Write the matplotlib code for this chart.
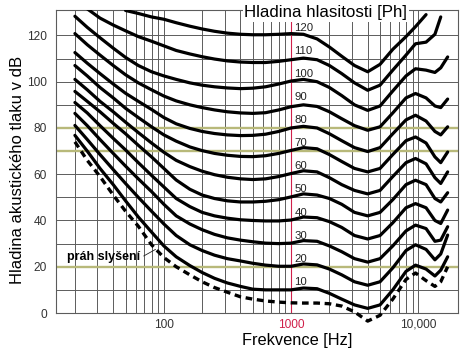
import numpy as np
import matplotlib.pyplot as plt
from matplotlib.ticker import NullLocator

plt.rcParams['font.family'] = ['Liberation Sans', 'DejaVu Sans']

# frekvence (Hz) a hladiny akustického tlaku (dB)
freq = [20, 25, 31.5, 40, 50, 63, 80, 100, 125, 160, 200, 250, 315, 400, 500, 630, 800,
        1000, 1250, 1600, 2000, 2500, 3150, 4000, 5000, 6300, 8000, 9500, 11500, 13500, 15000, 17000]
nan = np.nan

prah = [74, 66, 59, 51, 44, 37.5, 29.5, 24, 20, 16.5, 13.5, 11, 9, 7, 6, 5.2, 4.7,
        4.4, 4.3, 4.3, 4, 3, 0.5, -3.5, -1, 6, 14.5, 17.3, 14, 11.5, 13.5, 20]
spl_10 = [76.8, 70, 62.5, 55.5, 48.5, 41.5, 35, 29, 24.3, 20.5, 17.5, 15, 13, 11.5, 10.3, 10, 10,
          10, 10.8, 10.5, 8.5, 6, 3.5, 2, 3.5, 10, 18, 20.7, 19, 16, 18.5, 24.3]
spl_20 = [81.1, 75, 68.5, 62, 56, 50, 44, 38.5, 33.5, 29.5, 27, 25, 23.5, 22.5, 21.5, 20.7, 20.2,
          20.2, 21.2, 20.8, 19, 16.5, 13.5, 12, 13.5, 19.5, 27, 29.5, 27.5, 23, 25.5, 33.7]
spl_30 = [86.3, 81, 75, 69, 63.5, 58, 52.5, 47, 42, 38.5, 36, 34, 32.5, 31.5, 30.8, 30.2, 30,
          30.2, 31.3, 31, 29, 26.5, 23.5, 22, 23.5, 29, 35.5, 38, 36.5, 31, 31.5, 37.3]
spl_40 = [91, 86.5, 81, 75.5, 70.5, 65, 59.5, 54.5, 49.5, 46, 43.5, 42, 41, 40.3, 40, 39.8, 39.8,
          40.2, 41.5, 41.2, 39.5, 37, 33.5, 32, 33.5, 39, 45.5, 47.3, 45.5, 40, 38.7, 44.5]
spl_50 = [95.8, 91.5, 87, 82, 77.5, 72.5, 67.5, 62.5, 57.5, 53.5, 51, 49.5, 48.5, 48, 48, 48.3, 49,
          50.2, 51.5, 51, 49.5, 47, 43.5, 42, 43.5, 49, 55.5, 57.4, 55.5, 49.5, 48, 52]
spl_60 = [101, 96.5, 91.5, 87, 82.5, 78, 73.5, 69.5, 66, 63.3, 61.3, 59.8, 58.7, 58, 57.7, 58, 59,
          60.3, 61.5, 61, 58.5, 55.5, 53, 51.5, 53, 59, 65, 66.8, 64.5, 58.5, 56, 61]
spl_70 = [107, 102.5, 97.5, 93, 88.5, 84.5, 80.5, 77, 74.3, 71.8, 70.2, 69, 68.2, 67.7, 67.6, 68, 69,
          70.3, 71.5, 71, 68.5, 65.5, 62.5, 61, 62.5, 68.5, 74.5, 76.1, 73.5, 67.5, 65, 69.6]
spl_80 = [112.6, 108, 103.5, 99, 95, 91.5, 88, 84.5, 81.8, 79.8, 78.5, 77.6, 77, 76.7, 76.8, 77.3, 78.5,
          80, 80.7, 80, 77.5, 74.5, 71.5, 69.8, 71.5, 77.5, 83.5, 85.5, 83, 78.5, 77, 80.5]
spl_90 = [120.8, 116, 111.5, 107, 103, 99.5, 96.5, 93.8, 91.7, 90, 88.8, 87.8, 87, 86.5, 86.3, 86.6, 87.8,
          89.2, 90, 89.3, 87, 84, 81, 79, 80.5, 86.5, 93, 94.9, 93, 89.5, 88.8, 92.5]
spl_100 = [128.3, 123.5, 119, 114.5, 110.5, 107, 104.3, 102.5, 101, 99.5, 98.5, 97.8, 97.3, 97, 97.2, 97.8, 99,
           100.3, 101, 100, 97.5, 94, 90, 87.6, 89.5, 96, 102.5, 105.6, 105, 104, 106, 110.7]
spl_110 = [nan, 131.5, 127.5, 124.5, 122, 119.5, 117.5, 115.5, 113.5, 112, 110.8, 109.8, 109, 108.5, 108.3, 108.3, 108.8,
           109.5, 110.2, 109.5, 107, 103.5, 99.5, 96.3, 98.5, 105, 111.5, 116.4, 117.1, 120.5, 128, nan]
spl_120 = [nan, nan, nan, nan, 130.8, 129.5, 128, 127, 125.5, 124, 122.8, 121.8, 121, 120.5, 120.3, 120.3, 120.5,
           120.8, 120.5, 118.5, 115, 111, 107, 104.3, 107.5, 114, 119.5, 123.8, 129, nan, nan, nan]

phon = [10, 20, 30, 40, 50, 60, 70, 80, 90, 100, 110, 120]
krivky = [spl_10, spl_20, spl_30, spl_40, spl_50, spl_60, spl_70, spl_80, spl_90, spl_100, spl_110, spl_120]

grid_x = [20, 30, 40, 50, 60, 70, 80, 90, 100, 200, 300, 400, 500, 600, 700, 800, 900,
          2000, 3000, 4000, 5000, 6000, 7000, 8000, 9000, 10000]
grid_y = [10, 20, 30, 40, 50, 60, 70, 80, 90, 100, 110, 120]
zvyraznene_y = [20, 70, 80]

fig = plt.figure(figsize=(4.72, 3.52), dpi=100)
ax = fig.add_axes([56 / 472, 1 - 313 / 352, 402 / 472, 303 / 352])
ax.set_xscale('log')
ax.set_xlim(14.2, 20500)
ax.set_ylim(0, 131)

grid_col = '#5c5c5c'
for x in grid_x:
    ax.axvline(x, color=grid_col, lw=0.7, zorder=1)
for y in grid_y:
    ax.axhline(y, color=grid_col, lw=0.7, zorder=1)
for y in zvyraznene_y:
    ax.axhline(y, color='#b8b97a', lw=1.7, zorder=1.5)
ax.axvline(1000, color='#d0204a', lw=0.8, zorder=1.6)

for p, spl in zip(phon, krivky):
    ax.plot(freq, spl, color='black', lw=2.3, solid_capstyle='round', zorder=3)
    ax.text(1060, p + 3.4, str(p), fontsize=8.2, color='#222222', ha='left', va='center', zorder=4)

ax.plot(freq, prah, color='black', lw=2.4, ls=(0, (2.0, 1.4)), zorder=3, clip_on=False)

ax.annotate('práh slyšení', xy=(86, 27.5), xytext=(17.2, 24.2), fontsize=9, fontweight='bold',
            ha='left', va='center', zorder=5,
            arrowprops=dict(arrowstyle='-', lw=0.6, color='#222222', shrinkA=1, shrinkB=0,
                            relpos=(1, 0.4)))

ax.set_xticks([100, 1000, 10000])
ax.set_xticklabels(['100', '1000', '10,000'])
ax.xaxis.set_minor_locator(NullLocator())
ax.set_yticks([0, 20, 40, 60, 80, 100, 120])
ax.tick_params(axis='both', length=0, labelsize=8.6, labelcolor='#333333')
ax.tick_params(axis='x', pad=4)
ax.tick_params(axis='y', pad=6.5)
ax.get_xticklabels()[1].set_color('#d0204a')

for s in ax.spines.values():
    s.set_color(grid_col)
    s.set_linewidth(0.8)

fig.text(297 / 472, 1 - 341 / 352, 'Frekvence [Hz]', fontsize=11.8, ha='center', va='center')
fig.text(18 / 472, 1 - 170 / 352, 'Hladina akustického tlaku v dB', fontsize=12,
         rotation=90, ha='center', va='center')
fig.text(326 / 472, 1 - 13 / 352, 'Hladina hlasitosti [Ph]', fontsize=12.2, ha='center', va='center',
         bbox=dict(facecolor='white', edgecolor='none', pad=1.0), zorder=10)

fig.savefig('out.png', dpi=100)
